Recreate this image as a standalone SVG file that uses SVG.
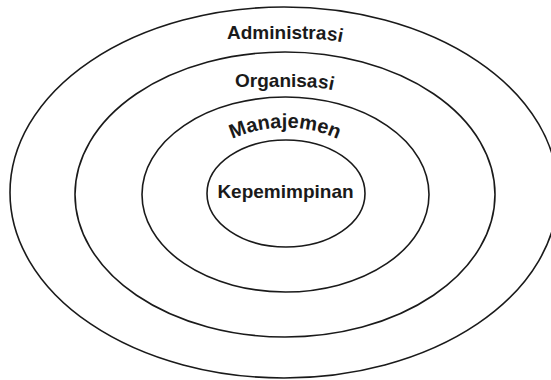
<svg xmlns="http://www.w3.org/2000/svg" xmlns:xlink="http://www.w3.org/1999/xlink" width="551" height="380" viewBox="0 0 551 380">
  <style>
    .ring { fill: none; stroke: #1a1a1a; stroke-width: 1.6; }
    .lbl { font-family: "Liberation Sans", Arial, sans-serif; font-weight: bold; font-size: 19px; fill: #1a1a1a; }
    .big { font-size: 20px; }
  </style>
  <defs>
    <path id="pAdm" d="M 190,39 L 312,39 Q 335,39 360,47"/>
    <path id="pOrg" d="M 190,87 L 305,87 Q 325,87 350,95"/>
    <path id="pMan" d="M 222,144 A 130 130 0 0 1 348,144"/>
  </defs>
  <rect width="551" height="380" fill="#ffffff"/>
  <g id="administrasi">
    <ellipse class="ring" cx="284" cy="192.5" rx="274" ry="185.5"/>
    <text class="lbl"><textPath xlink:href="#pAdm" href="#pAdm" startOffset="37">Administrasi</textPath></text>
  </g>
  <g id="organisasi">
    <ellipse class="ring" cx="285" cy="194.5" rx="210" ry="142.5"/>
    <text class="lbl"><textPath xlink:href="#pOrg" href="#pOrg" startOffset="45">Organisasi</textPath></text>
  </g>
  <g id="manajemen">
    <ellipse class="ring" cx="285.5" cy="194.5" rx="143.5" ry="97.5"/>
    <text class="lbl big" text-anchor="middle"><textPath xlink:href="#pMan" href="#pMan" startOffset="50%">Manajemen</textPath></text>
  </g>
  <g id="kepemimpinan">
    <ellipse class="ring" cx="286" cy="193.5" rx="79" ry="53.5"/>
    <text class="lbl" x="285.5" y="198" text-anchor="middle">Kepemimpinan</text>
  </g>
  <g id="connectors"/>
</svg>
